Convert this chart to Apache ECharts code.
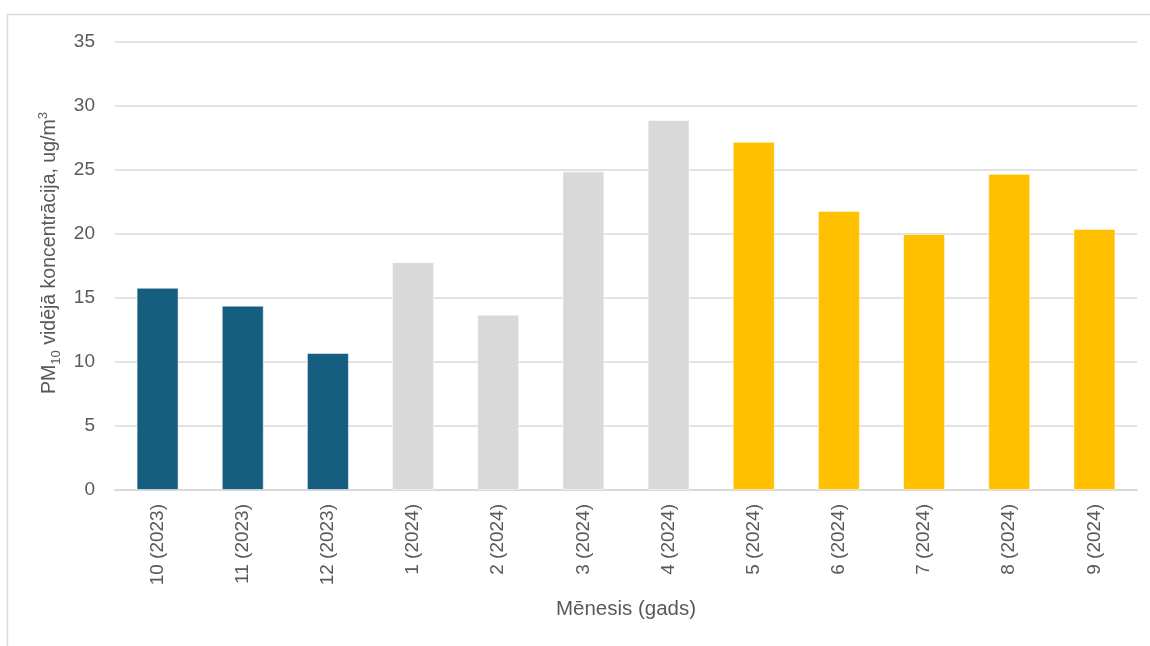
<!DOCTYPE html>
<html>
<head>
<meta charset="utf-8">
<script src="https://cdn.jsdelivr.net/npm/echarts@6/dist/echarts.min.js"></script>
<style>
html,body{margin:0;padding:0;background:#fff;}
#c{width:1150px;height:646px;}
</style>
</head>
<body>
<div id="c"></div>
<script>
const categories = ['10 (2023)','11 (2023)','12 (2023)','1 (2024)','2 (2024)','3 (2024)','4 (2024)','5 (2024)','6 (2024)','7 (2024)','8 (2024)','9 (2024)'];
const values = [15.8, 14.4, 10.7, 17.8, 13.7, 24.9, 28.9, 27.2, 21.8, 20.0, 24.7, 20.4];
const periodOfMonth = [0,0,0,1,1,1,1,2,2,2,2,2];
const yTicks = [0,5,10,15,20,25,30,35];

const periodColors = ['#165E80', '#D9D9D9', '#FFC000'];
const fontFam = 'Liberation Sans, Arial, sans-serif';
const textCol = '#595959';

const chart = echarts.init(document.getElementById('c'), null, {renderer:'canvas'});
chart.setOption({
  animation: false,
  backgroundColor: '#fff',
  grid: {left: 115, right: 13, top: 42, bottom: 156, containLabel: false},
  graphic: [
    {type:'line', shape:{x1:7, y1:14.5, x2:1150, y2:14.5}, style:{stroke:'#D9D9D9', lineWidth:1.5}},
    {type:'line', shape:{x1:7.5, y1:14, x2:7.5, y2:646}, style:{stroke:'#D9D9D9', lineWidth:1.5}}
  ],
  xAxis: {
    type: 'category',
    data: categories,
    axisTick: {show:false},
    axisLine: {show:true, lineStyle:{color:'#D9D9D9', width:2}},
    axisLabel: {rotate: 90, margin: 14, fontSize: 19, color: textCol, fontFamily: fontFam},
    name: 'Mēnesis (gads)',
    nameLocation: 'middle',
    nameGap: 109,
    nameTextStyle: {fontSize: 20.5, color: textCol, fontFamily: fontFam}
  },
  yAxis: {
    type: 'value',
    min: yTicks[0],
    max: yTicks[yTicks.length-1],
    interval: yTicks[1]-yTicks[0],
    axisLine: {show:false},
    axisTick: {show:false},
    splitLine: {lineStyle:{color:'#D9D9D9', width:1.5}},
    axisLabel: {margin: 20, fontSize: 19, color: textCol, fontFamily: fontFam},
    name: '{m|PM}{s|10}{m| vidējā koncentrācija, ug/m}{p|3}',
    nameLocation: 'middle',
    nameGap: 43,
    nameTextStyle: {
      color: textCol, fontFamily: fontFam,
      padding: [0, 0, 0, 26],
      rich: {
        m: {fontSize: 19.5, color: textCol, fontFamily: fontFam, lineHeight: 26, verticalAlign:'middle'},
        s: {fontSize: 13, color: textCol, fontFamily: fontFam, lineHeight: 26, verticalAlign:'bottom', padding:[9,0,0,0]},
        p: {fontSize: 13, color: textCol, fontFamily: fontFam, lineHeight: 26, verticalAlign:'top', padding:[0,0,9,0]}
      }
    }
  },
  series: [{
    type: 'bar',
    barWidth: 42,
    data: values.map((v,i) => ({
      value: v,
      itemStyle: {color: periodColors[periodOfMonth[i]], borderColor: 'rgba(255,255,255,0.5)', borderWidth: 1}
    }))
  }]
});
</script>
</body>
</html>
